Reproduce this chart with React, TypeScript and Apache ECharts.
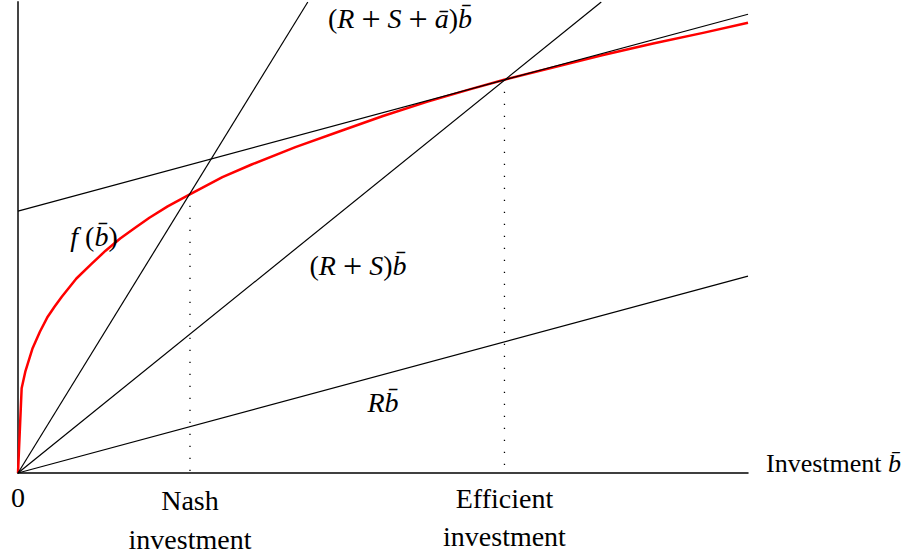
import React, { useEffect, useRef } from "react";
import * as echarts from "echarts";

// ---- data (x: investment b̄, y: value) ----
const rLine: number[][] = [[0, 0], [10, 4.18]];
const rsLine: number[][] = [[0, 0], [7.99, 10]];
const rsaLine: number[][] = [[0, 0], [3.97, 10]];
const tangentLine: number[][] = [[0, 5.56], [10, 9.74]];
const fCurve: number[][] = [
  [0, 0], [0.05, 1.8], [0.1, 2.15], [0.2, 2.65], [0.3, 3.0], [0.4, 3.3],
  [0.5, 3.53], [0.6, 3.74], [0.8, 4.13], [1.0, 4.43], [1.2, 4.72],
  [1.4, 4.98], [1.6, 5.2], [1.8, 5.42], [2.05, 5.66], [2.36, 5.92],
  [2.8, 6.28], [3.2, 6.55], [3.8, 6.92], [4.4, 7.25], [5.0, 7.58],
  [5.6, 7.88], [6.2, 8.15], [6.66, 8.35], [7.3, 8.6], [8.0, 8.87],
  [8.7, 9.12], [9.4, 9.35], [10, 9.56],
];
const nashPoint: number[] = [2.356, 5.93];
const efficientPoint: number[] = [6.664, 8.35];
const xRange: number[] = [0, 10];
const yRange: number[] = [0, 10];

const FONT = "Liberation Serif, Times New Roman, serif";
const FS = 26; // axis title
const FM = 28; // math labels
const FSB = 28; // bottom labels
const rich = {
  i: { fontFamily: FONT, fontSize: FM, fontStyle: "italic", fill: "#000" },
  n: { fontFamily: FONT, fontSize: FM, fill: "#000" },
  pl: { fontFamily: FONT, fontSize: 34, fill: "#000" },
  t: { fontFamily: FONT, fontSize: FS, fill: "#000" },
  ti: { fontFamily: FONT, fontSize: FS, fontStyle: "italic", fill: "#000" },
  b: { fontFamily: FONT, fontSize: FSB, fill: "#000" },
};
const BBAR = "b\u0304";
const PLUS = "{n| }{pl|+}{n| }";

function txt(text: string, x: number, y: number, align: string = "left") {
  return {
    type: "text",
    x,
    y,
    z: 100,
    style: {
      text,
      rich,
      fontFamily: FONT,
      fontSize: FS,
      fill: "#000",
      align,
      verticalAlign: "middle",
    },
  };
}

export default function App() {
  const ref = useRef<HTMLDivElement>(null);
  useEffect(() => {
    if (!ref.current) return;
    const chart = echarts.init(ref.current, undefined, { renderer: "svg" });
    const blackLine = (data: number[][]) => ({
      type: "line",
      data,
      symbol: "none",
      silent: true,
      z: 3,
      lineStyle: { color: "#000", width: 1.2 },
    });
    const dotted = (p: number[]) => ({
      type: "line",
      data: [[p[0], p[1]], [p[0], 0]],
      symbol: "none",
      silent: true,
      z: 1,
      lineStyle: { color: "#000", width: 1.3, type: [1.3, 10.7] },
    });
    chart.setOption({
      animation: false,
      backgroundColor: "#fff",
      grid: { left: 18, right: 176, top: 2, bottom: 85, outerBoundsMode: "none" },
      xAxis: {
        type: "value",
        min: xRange[0],
        max: xRange[1],
        axisLine: { show: true, onZero: false, lineStyle: { color: "#000", width: 1.5 } },
        axisTick: { show: false },
        axisLabel: { show: false },
        splitLine: { show: false },
      },
      yAxis: {
        type: "value",
        min: yRange[0],
        max: yRange[1],
        axisLine: { show: true, onZero: false, lineStyle: { color: "#444", width: 2 } },
        axisTick: { show: false },
        axisLabel: { show: false },
        splitLine: { show: false },
      },
      series: [
        dotted(nashPoint),
        dotted(efficientPoint),
        {
          type: "line",
          data: fCurve,
          symbol: "none",
          silent: true,
          smooth: false,
          z: 2,
          lineStyle: { color: "#ff0000", width: 2.5, join: "round" },
        },
        blackLine(rLine),
        blackLine(rsLine),
        blackLine(rsaLine),
        blackLine(tangentLine),
      ],
    });
    const origin = chart.convertToPixel({ gridIndex: 0 }, [0, 0]) as number[];
    const nashPx = chart.convertToPixel({ gridIndex: 0 }, [nashPoint[0], 0]) as number[];
    const effPx = chart.convertToPixel({ gridIndex: 0 }, [efficientPoint[0], 0]) as number[];
    const xEnd = chart.convertToPixel({ gridIndex: 0 }, [xRange[1], 0]) as number[];
    chart.setOption({
      graphic: [
        txt(`{n|(}{i|R}${PLUS}{i|S}${PLUS}{i|ā}{n|)}{i|${BBAR}}`, 400, 18, "center"),
        txt(`{i|f }{n|(}{i|${BBAR}}{n|)}`, 94, 236, "center"),
        txt(`{n|(}{i|R}${PLUS}{i|S}{n|)}{i|${BBAR}}`, 358, 265, "center"),
        txt(`{i|R${BBAR}}`, 383, 402, "center"),
        txt(`{t|Investment }{ti|${BBAR}}`, xEnd[0] + 18, origin[1] - 10),
        txt("{b|0}", origin[0], origin[1] + 24, "center"),
        txt("{b|Nash}", nashPx[0], origin[1] + 27, "center"),
        txt("{b|investment}", nashPx[0], origin[1] + 66, "center"),
        txt("{b|Efficient}", effPx[0], origin[1] + 25, "center"),
        txt("{b|investment}", effPx[0], origin[1] + 63, "center"),
      ],
    });
    return () => chart.dispose();
  }, []);
  return (
    <div
      ref={ref}
      style={{ position: "absolute", left: 0, top: 0, width: 924, height: 558, background: "#fff" }}
    />
  );
}
